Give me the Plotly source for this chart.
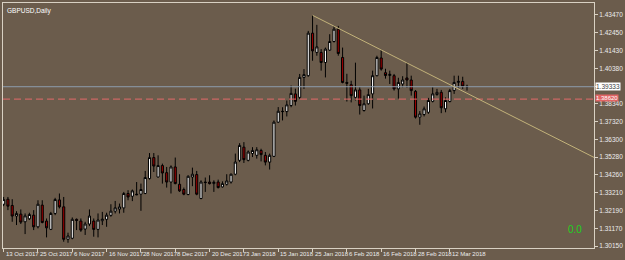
import pandas as pd
import plotly.graph_objects as go

# ---------------- data ----------------
holidays = ["2017-12-25", "2018-01-01"]
dates = [d.strftime("%Y-%m-%d") for d in pd.bdate_range("2017-10-13", "2018-03-16", freq="C", holidays=holidays)]

open_ = [
    1.3256, 1.3285, 1.3249, 1.3188, 1.3199, 1.3155, 1.3172, 1.3193, 1.3126, 1.3251,
    1.3159, 1.3111, 1.3203, 1.3281, 1.3241, 1.3054, 1.3060, 1.3169, 1.3159, 1.3113,
    1.3142, 1.3159, 1.3111, 1.3161, 1.3169, 1.3192, 1.3216, 1.3228, 1.3235, 1.3318,
    1.3302, 1.3314, 1.3314, 1.3318, 1.3404, 1.3525, 1.3413, 1.3479, 1.3438, 1.3384,
    1.3471, 1.3371, 1.3341, 1.3312, 1.3413, 1.3427, 1.3289, 1.3384, 1.3384, 1.3375,
    1.3384, 1.3356, 1.3371, 1.3384, 1.3429, 1.3509, 1.3585, 1.3509, 1.3548, 1.3538,
    1.3566, 1.3538, 1.3499, 1.3532, 1.3729, 1.3792, 1.3790, 1.3825, 1.3892, 1.3872,
    1.3987, 1.3997, 1.4242, 1.4131, 1.4131, 1.4073, 1.4144, 1.4194, 1.4265, 1.4102,
    1.3958, 1.3945, 1.3872, 1.3915, 1.3796, 1.3835, 1.3892, 1.3997, 1.4099, 1.4014,
    1.3998, 1.3997, 1.3921, 1.3949, 1.3984, 1.3972, 1.3907, 1.3758, 1.3773, 1.3786,
    1.3849, 1.3888, 1.3901, 1.3806, 1.3848, 1.3911, 1.3958, 1.3964, 1.3936]
high = [
    1.3298, 1.3298, 1.3285, 1.3216, 1.3226, 1.3203, 1.3207, 1.3222, 1.3279, 1.3279,
    1.3174, 1.3212, 1.3293, 1.3318, 1.3298, 1.3092, 1.3180, 1.3174, 1.3174, 1.3155,
    1.3226, 1.3174, 1.3203, 1.3212, 1.3207, 1.3256, 1.3275, 1.3260, 1.3327, 1.3337,
    1.3341, 1.3384, 1.3375, 1.3448, 1.3551, 1.3551, 1.3538, 1.3490, 1.3471, 1.3480,
    1.3525, 1.3429, 1.3352, 1.3423, 1.3467, 1.3448, 1.3394, 1.3410, 1.3423, 1.3394,
    1.3398, 1.3388, 1.3429, 1.3433, 1.3548, 1.3608, 1.3614, 1.3566, 1.3585, 1.3585,
    1.3576, 1.3557, 1.3548, 1.3739, 1.3816, 1.3815, 1.3854, 1.3940, 1.3922, 1.4007,
    1.4035, 1.4255, 1.4345, 1.4290, 1.4150, 1.4159, 1.4236, 1.4284, 1.4284, 1.4159,
    1.4008, 1.3968, 1.4072, 1.3930, 1.3882, 1.3921, 1.4026, 1.4112, 1.4146, 1.4037,
    1.4026, 1.4007, 1.3985, 1.3994, 1.4072, 1.3997, 1.3914, 1.3793, 1.3819, 1.3869,
    1.3930, 1.3921, 1.3915, 1.3872, 1.3921, 1.3997, 1.3997, 1.3991, 1.3945]
low = [
    1.3245, 1.3222, 1.3155, 1.3136, 1.3142, 1.3084, 1.3165, 1.3107, 1.3117, 1.3146,
    1.3065, 1.3107, 1.3193, 1.3232, 1.3040, 1.3034, 1.3054, 1.3107, 1.3097, 1.3079,
    1.3130, 1.3069, 1.3065, 1.3136, 1.3126, 1.3184, 1.3203, 1.3203, 1.3207, 1.3279,
    1.3274, 1.3308, 1.3218, 1.3314, 1.3398, 1.3442, 1.3410, 1.3375, 1.3352, 1.3318,
    1.3371, 1.3327, 1.3308, 1.3308, 1.3360, 1.3308, 1.3285, 1.3327, 1.3370, 1.3327,
    1.3347, 1.3352, 1.3364, 1.3375, 1.3423, 1.3499, 1.3494, 1.3503, 1.3528, 1.3519,
    1.3503, 1.3480, 1.3456, 1.3528, 1.3724, 1.3739, 1.3762, 1.3815, 1.3825, 1.3863,
    1.3921, 1.3991, 1.4083, 1.4112, 1.4026, 1.3987, 1.4140, 1.4188, 1.4112, 1.3953,
    1.3848, 1.3843, 1.3854, 1.3773, 1.3790, 1.3830, 1.3808, 1.3993, 1.4026, 1.3980,
    1.3949, 1.3911, 1.3865, 1.3930, 1.3928, 1.3882, 1.3750, 1.3714, 1.3762, 1.3777,
    1.3843, 1.3882, 1.3781, 1.3786, 1.3843, 1.3892, 1.3928, 1.3921, 1.3911]
close = [
    1.3283, 1.3245, 1.3188, 1.3203, 1.3153, 1.3189, 1.3197, 1.3126, 1.3256, 1.3151,
    1.3120, 1.3203, 1.3283, 1.3241, 1.3054, 1.3073, 1.3169, 1.3163, 1.3107, 1.3142,
    1.3188, 1.3111, 1.3165, 1.3170, 1.3193, 1.3216, 1.3235, 1.3241, 1.3318, 1.3298,
    1.3333, 1.3311, 1.3341, 1.3410, 1.3525, 1.3476, 1.3479, 1.3436, 1.3384, 1.3471,
    1.3375, 1.3333, 1.3314, 1.3417, 1.3429, 1.3314, 1.3384, 1.3381, 1.3375, 1.3383,
    1.3352, 1.3375, 1.3390, 1.3429, 1.3499, 1.3595, 1.3513, 1.3557, 1.3566, 1.3570,
    1.3542, 1.3499, 1.3538, 1.3729, 1.3792, 1.3790, 1.3829, 1.3895, 1.3849, 1.3987,
    1.4003, 1.4242, 1.4140, 1.4163, 1.4073, 1.4150, 1.4194, 1.4265, 1.4125, 1.3958,
    1.3953, 1.3882, 1.3915, 1.3825, 1.3835, 1.3888, 1.3997, 1.4102, 1.4035, 1.3998,
    1.4005, 1.3921, 1.3958, 1.3972, 1.3972, 1.3911, 1.3758, 1.3777, 1.3806, 1.3854,
    1.3892, 1.3901, 1.3812, 1.3854, 1.3911, 1.3958, 1.3964, 1.3936, 1.3933]

date_label_dates = ["2017-10-13", "2017-10-25", "2017-11-06", "2017-11-16", "2017-11-28",
                    "2017-12-08", "2017-12-20", "2018-01-03", "2018-01-15", "2018-01-25",
                    "2018-02-06", "2018-02-16", "2018-02-28", "2018-03-12"]
date_label_text = ["13 Oct 2017", "25 Oct 2017", "6 Nov 2017", "16 Nov 2017", "28 Nov 2017",
                   "8 Dec 2017", "20 Dec 2017", "3 Jan 2018", "15 Jan 2018", "25 Jan 2018",
                   "6 Feb 2018", "16 Feb 2018", "28 Feb 2018", "12 Mar 2018"]
# 1.39360 sits under the current-price box in the reference, so only its tick is kept
price_ticks = [1.43470, 1.42450, 1.41430, 1.40380, 1.39360, 1.38340, 1.37320,
               1.36300, 1.35280, 1.34260, 1.33210, 1.32190, 1.31170, 1.30150]
price_tick_text = ["1.43470", "1.42450", "1.41430", "1.40380", "", "1.38340", "1.37320",
                   "1.36300", "1.35280", "1.34260", "1.33210", "1.32190", "1.31170", "1.30150"]

current_price = 1.39333
level_price = 1.38620
trend_start = ("2018-01-25", 1.4345)
trend_end_value = 1.3526   # value where the ray meets the right edge
symbol_title = "GBPUSD,Daily"
indicator_value = "0.0"

# ---------------- style ----------------
BG = "#6B5C4C"
FRAME = "#D9D1C3"
TXT = "#ECECEC"
FONT = "Liberation Sans Narrow, Liberation Sans, Arial, sans-serif"
FS = 6.5
FS_DATE = 6
X_RANGE = [-0.15, 137.6]
Y_RANGE = [1.30038, 1.44159]

fig = go.Figure()
fig.add_trace(go.Candlestick(
    x=dates, open=open_, high=high, low=low, close=close,
    increasing=dict(line=dict(color="#000000", width=1), fillcolor="#FFFFFF"),
    decreasing=dict(line=dict(color="#000000", width=1), fillcolor="#990000"),
    hoverinfo="skip", showlegend=False,
))

shapes = [
    dict(type="line", xref="paper", yref="y", x0=0, x1=1, y0=current_price, y1=current_price,
         line=dict(color="#8D9DAD", width=1)),
    dict(type="line", xref="paper", yref="y", x0=0, x1=1, y0=level_price, y1=level_price,
         line=dict(color="#E46A6A", width=1, dash="7px,4px")),
    dict(type="line", xref="x", yref="y", x0=dates.index(trend_start[0]), y0=trend_start[1],
         x1=X_RANGE[1], y1=trend_end_value, line=dict(color="#C2B27A", width=1)),
]

annotations = []
for d, t in zip(date_label_dates, date_label_text):
    annotations.append(dict(x=d, xref="x", y=0, yref="paper", text=t, showarrow=False,
                            xanchor="left", yanchor="top", xshift=0, yshift=-1,
                            font=dict(family=FONT, size=FS_DATE, color=TXT)))
annotations += [
    dict(x=0, xref="paper", y=1, yref="paper", text=symbol_title, showarrow=False,
         xanchor="left", yanchor="top", xshift=2, yshift=-2,
         font=dict(family=FONT, size=FS, color="#FFFFFF")),
    dict(x=1, xref="paper", y=current_price, yref="y", text=f"{current_price:.5f}", showarrow=False,
         xanchor="left", yanchor="middle", xshift=1, bgcolor="#FFFFFF", borderpad=0,
         font=dict(family=FONT, size=FS, color="#404040")),
    dict(x=1, xref="paper", y=level_price, yref="y", text=f"{level_price:.5f}", showarrow=False,
         xanchor="left", yanchor="middle", xshift=1, yshift=1, bgcolor="#E06464", borderpad=0,
         font=dict(family=FONT, size=FS_DATE, color="#FFFFFF")),
    dict(x=0.9685, xref="paper", y=0.075, yref="paper", text=indicator_value, showarrow=False,
         xanchor="center", yanchor="middle",
         font=dict(family="Liberation Sans, Arial, sans-serif", size=10, color="#1ED21E")),
]

fig.update_layout(
    width=625, height=260,
    margin=dict(l=2, r=24, t=2, b=12, pad=0),
    paper_bgcolor=BG, plot_bgcolor=BG,
    shapes=shapes, annotations=annotations,
    showlegend=False,
    xaxis=dict(type="category", range=X_RANGE, rangeslider=dict(visible=False),
               showgrid=False, zeroline=False, showline=True, linecolor=FRAME, linewidth=1,
               mirror=True, ticks="outside", ticklen=3, tickcolor=FRAME, tickwidth=1,
               tickvals=date_label_dates, showticklabels=False),
    yaxis=dict(side="right", range=Y_RANGE, showgrid=False, zeroline=False,
               showline=True, linecolor=FRAME, linewidth=1, mirror=True,
               ticks="outside", ticklen=3, tickcolor=FRAME, tickwidth=1,
               tickvals=price_ticks, ticktext=price_tick_text,
               tickfont=dict(family=FONT, size=FS, color=TXT)),
)

fig.write_html("out.html")
